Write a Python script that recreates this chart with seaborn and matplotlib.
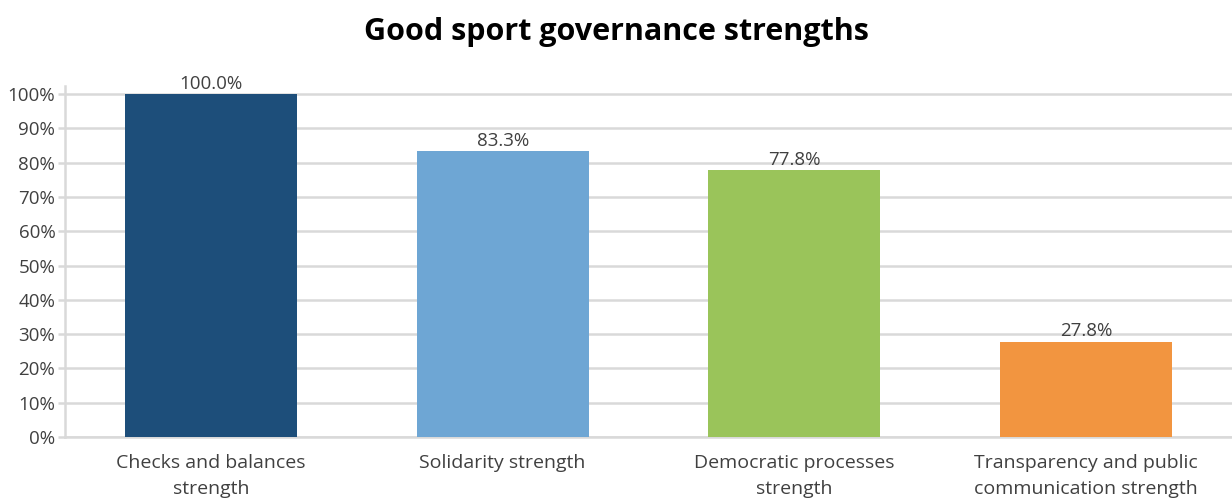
import matplotlib
matplotlib.use("Agg")
import matplotlib.pyplot as plt
import seaborn as sns
import pandas as pd
from matplotlib.ticker import PercentFormatter, MultipleLocator

categories = ["Checks and balances\nstrength", "Solidarity strength",
              "Democratic processes\nstrength", "Transparency and public\ncommunication strength"]
values = [100.0, 83.3, 77.8, 27.8]
colors = ["#1d4e7a", "#6ea6d4", "#9ac45a", "#f29540"]
title = "Good sport governance strengths"

sns.set_theme(style="white")
plt.rcParams["font.family"] = ["Open Sans", "DejaVu Sans"]
text_color = "#404040"

df = pd.DataFrame({"cat": categories, "val": [v / 100 for v in values]})

fig = plt.figure(figsize=(12.32, 5.04), dpi=100)
ax = fig.add_axes([0.0528, 0.133, 0.9472, 0.696])
sns.barplot(data=df, x="cat", y="val", hue="cat", palette=colors, legend=False,
            width=0.59, ax=ax, saturation=1, zorder=3, linewidth=0, edgecolor="none")

ax.set_xlim(-0.5, 3.5)
ax.set_ylim(0, 1.023)
ax.yaxis.set_major_locator(MultipleLocator(0.1))
ax.yaxis.set_major_formatter(PercentFormatter(1.0, decimals=0))
ax.grid(axis="y", color="#d9d9d9", linewidth=1.8, zorder=0)
ax.set_axisbelow(True)
for s in ["top", "right"]:
    ax.spines[s].set_visible(False)
for s in ["left", "bottom"]:
    ax.spines[s].set_color("#d9d9d9")
    ax.spines[s].set_linewidth(1.8)
ax.tick_params(axis="y", which="major", left=True, length=5, width=1.8, color="#d9d9d9",
               labelsize=13.5, labelcolor=text_color, pad=2)
ax.tick_params(axis="x", bottom=False, labelsize=14, labelcolor=text_color, pad=6)
for lbl in ax.get_xticklabels():
    lbl.set_linespacing(1.6)
ax.set_xlabel("")
ax.set_ylabel("")

for container in ax.containers:
    ax.bar_label(container, labels=[f"{v.get_height()*100:.1f}%" for v in container],
                 fontsize=13.5, color=text_color, padding=1)

fig.suptitle(title, fontsize=22, fontweight="bold", color="black", y=0.936, va="center")
fig.savefig("out.png", dpi=100)
